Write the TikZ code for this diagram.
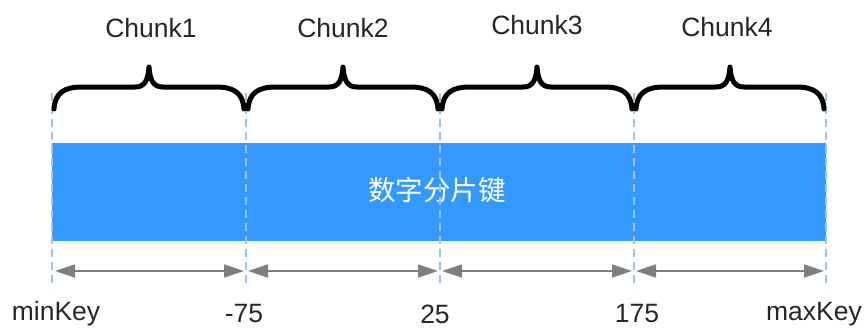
\documentclass[tikz,border=0pt]{standalone}
\usepackage{fontspec}
\setmainfont{Liberation Sans}
\newfontfamily\cjk{Noto Sans CJK SC}
\usetikzlibrary{arrows.meta}
\definecolor{barblue}{HTML}{3399FF}
\definecolor{dashblue}{HTML}{9DC3E6}
\definecolor{arrgray}{HTML}{7F7F7F}
\definecolor{txt}{HTML}{262626}
\newcommand{\chbrace}[2]{%
  \pgfmathsetmacro{\xa}{#1}\pgfmathsetmacro{\xb}{#2}\pgfmathsetmacro{\xm}{(#1+#2)/2}%
  \draw[bracestyle] (\xa+2,109) .. controls (\xa+3,93) and (\xa+12,87) .. (\xa+30,87)
    -- (\xm-14,87) .. controls (\xm-4,87) and (\xm-1,80) .. (\xm,67)
    .. controls (\xm+1,80) and (\xm+4,87) .. (\xm+14,87)
    -- (\xb-30,87) .. controls (\xb-12,87) and (\xb-3,93) .. (\xb-2,109);}
\begin{document}
\begin{tikzpicture}[x=1pt,y=-1pt,
  bracestyle/.style={line width=5pt,black,line cap=round,line join=round},
  guide/.style={dashblue,line width=1.2pt,dash pattern=on 8pt off 5pt},
  span/.style={arrgray,line width=1.6pt,{Triangle[length=20pt,width=13pt]}-{Triangle[length=20pt,width=13pt]}},
  lbl/.style={text=txt,font=\fontsize{26.5}{30}\selectfont,inner sep=0pt},
  barlbl/.style={text=white,font=\cjk\fontsize{27.5}{32}\selectfont,inner sep=0pt}]
\useasboundingbox (0,0) rectangle (868,327);
% boundaries
\coordinate (b0) at (52,0);
\coordinate (b1) at (246,0);
\coordinate (b2) at (440,0);
\coordinate (b3) at (634,0);
\coordinate (b4) at (826,0);
% bar
\fill[barblue] (52,143) rectangle (826,241);
\node[barlbl] (bar) at (437,190) {数字分片键};
% guides
\foreach \i in {0,...,4}{
  \draw[guide] (b\i |- 0,93) -- (b\i |- 0,288);
}
% braces
\chbrace{52}{246}
\chbrace{246}{440}
\chbrace{440}{634}
\chbrace{634}{826}
% chunk labels
\node[lbl] (c1) at (151,28) {Chunk1};
\node[lbl] (c2) at (343,28) {Chunk2};
\node[lbl] (c3) at (537,25) {Chunk3};
\node[lbl] (c4) at (727,27) {Chunk4};
% span arrows
\coordinate (a0) at (55,271);
\coordinate (a1l) at (244,271);
\coordinate (a1r) at (248,271);
\coordinate (a2l) at (438,271);
\coordinate (a2r) at (442,271);
\coordinate (a3l) at (632,271);
\coordinate (a3r) at (636,271);
\coordinate (a4) at (824,271);
\draw[span] (a0) -- (a1l);
\draw[span] (a1r) -- (a2l);
\draw[span] (a2r) -- (a3l);
\draw[span] (a3r) -- (a4);
% key labels
\node[lbl] (k0) at (56,314) {minKey};
\node[lbl] (k1) at (244,314) {-75};
\node[lbl] (k2) at (435,314) {25};
\node[lbl] (k3) at (637,314) {175};
\node[lbl] (k4) at (814,314) {maxKey};
\end{tikzpicture}
\end{document}
